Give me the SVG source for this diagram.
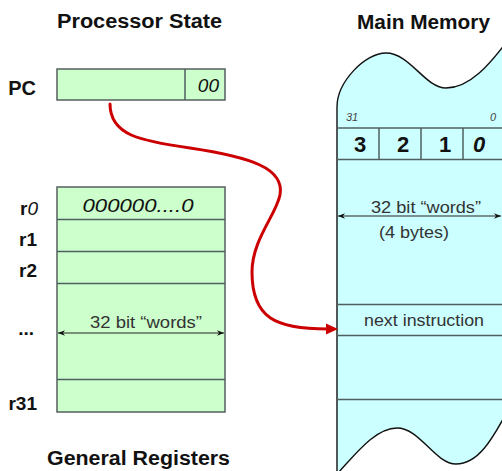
<svg xmlns="http://www.w3.org/2000/svg" width="502" height="471" viewBox="0 0 502 471">
  <defs>
    <style>
      .title { font-family: "Liberation Sans", Arial, sans-serif; font-weight: bold; font-size: 19.5px; fill: #111; }
      .reg-label { font-family: "Liberation Sans", Arial, sans-serif; font-weight: bold; font-size: 19px; fill: #111; text-anchor: end; }
      .note { font-family: "Liberation Sans", Arial, sans-serif; font-size: 16.5px; fill: #333; }
      .val { font-family: "Liberation Sans", Arial, sans-serif; font-style: italic; font-size: 19px; fill: #111; }
      .digit { font-family: "Liberation Sans", Arial, sans-serif; font-weight: bold; font-size: 22px; fill: #111; text-anchor: middle; }
      .bitpos { font-family: "Liberation Sans", Arial, sans-serif; font-style: italic; font-size: 11px; fill: #444; }
      .green { fill: #ccffcc; stroke: #555f5f; stroke-width: 1.5; }
      .sep { stroke: #4f5f5f; stroke-width: 1.5; fill: none; }
      .dim { stroke: #222; stroke-width: 1.2; fill: none; marker-start: url(#tipL); marker-end: url(#tipR); }
    </style>
    <marker id="tipR" viewBox="0 0 10 10" refX="10" refY="5" markerWidth="7" markerHeight="7" orient="auto" markerUnits="userSpaceOnUse">
      <path d="M0,1 L10,5 L0,9 L3,5 Z" fill="#111"/>
    </marker>
    <marker id="tipL" viewBox="0 0 10 10" refX="0" refY="5" markerWidth="7" markerHeight="7" orient="auto" markerUnits="userSpaceOnUse">
      <path d="M10,1 L0,5 L10,9 L7,5 Z" fill="#111"/>
    </marker>
  </defs>

  <rect width="502" height="471" fill="#ffffff"/>

  <!-- Processor side -->
  <g id="processor-title">
    <text class="title" x="139.5" y="28" text-anchor="middle" textLength="165" lengthAdjust="spacingAndGlyphs">Processor State</text>
  </g>

  <g id="pc-register">
    <text class="reg-label" x="36" y="95" style="font-size:20px">PC</text>
    <rect class="green" x="57" y="69" width="168" height="31"/>
    <line class="sep" x1="185" y1="69" x2="185" y2="100"/>
    <text class="val" x="219" y="92" text-anchor="end">00</text>
  </g>

  <g id="general-registers">
    <rect class="green" x="57" y="187" width="168" height="225"/>
    <line class="sep" x1="57" y1="219.5" x2="225" y2="219.5"/>
    <line class="sep" x1="57" y1="251.5" x2="225" y2="251.5"/>
    <line class="sep" x1="57" y1="283.5" x2="225" y2="283.5"/>
    <line class="sep" x1="57" y1="379.5" x2="225" y2="379.5"/>
    <text class="val" x="138" y="212" text-anchor="middle" textLength="111" lengthAdjust="spacingAndGlyphs">000000....0</text>
    <line class="dim" x1="58" y1="333" x2="224" y2="333"/>
    <text class="note" x="146" y="328" text-anchor="middle" textLength="112" lengthAdjust="spacingAndGlyphs">32 bit “words”</text>
    <text class="reg-label" x="38" y="215">r<tspan font-style="italic" font-weight="normal">0</tspan></text>
    <text class="reg-label" x="37" y="246">r1</text>
    <text class="reg-label" x="37" y="277">r2</text>
    <text class="reg-label" x="34" y="335">...</text>
    <text class="reg-label" x="37" y="410">r31</text>
  </g>

  <g id="registers-title">
    <text class="title" x="138.5" y="465" text-anchor="middle" textLength="183" lengthAdjust="spacingAndGlyphs">General Registers</text>
  </g>

  <!-- Memory side -->
  <g id="memory-title">
    <text class="title" x="423.5" y="29" text-anchor="middle" textLength="133" lengthAdjust="spacingAndGlyphs">Main Memory</text>
  </g>

  <g id="main-memory">
    <path d="M337,107 C337,82 365,53 386,53 C410,53 425,88 446,88 C470,88 490,64 508,40 L508,410 C492,440 478,464 456,464 C435,464 420,428 397,428 C375,428 355,455 337,474 Z" fill="#ccffff" stroke="none"/>
    <path d="M337,474 L337,107 C337,82 365,53 386,53 C410,53 425,88 446,88 C470,88 490,64 508,40" fill="none" stroke="#111" stroke-width="1.4"/>
    <path d="M337,474 C355,455 375,428 397,428 C420,428 435,464 456,464 C478,464 492,440 508,410" fill="none" stroke="#111" stroke-width="1.4"/>

    <text class="bitpos" x="346" y="121">31</text>
    <text class="bitpos" x="490" y="121">0</text>

    <line class="sep" x1="337" y1="128" x2="502" y2="128"/>
    <line class="sep" x1="337" y1="159.5" x2="502" y2="159.5"/>
    <line class="sep" x1="379" y1="128" x2="379" y2="159.5"/>
    <line class="sep" x1="421" y1="128" x2="421" y2="159.5"/>
    <line class="sep" x1="463" y1="128" x2="463" y2="159.5"/>
    <text class="digit" x="360" y="152">3</text>
    <text class="digit" x="403" y="152">2</text>
    <text class="digit" x="445" y="152">1</text>
    <text class="digit" x="479" y="152" font-style="italic" font-weight="normal">0</text>

    <line class="dim" x1="338" y1="216" x2="501" y2="216"/>
    <text class="note" x="426" y="213" text-anchor="middle" textLength="110" lengthAdjust="spacingAndGlyphs">32 bit “words”</text>
    <text class="note" x="414" y="238" text-anchor="middle" textLength="70" lengthAdjust="spacingAndGlyphs">(4 bytes)</text>

    <line class="sep" x1="337" y1="304.5" x2="502" y2="304.5"/>
    <line class="sep" x1="337" y1="335.5" x2="502" y2="335.5"/>
    <text class="note" x="424" y="326" text-anchor="middle" textLength="120" lengthAdjust="spacingAndGlyphs">next instruction</text>
    <line class="sep" x1="337" y1="399.5" x2="502" y2="399.5"/>
  </g>

  <!-- PC points at the next instruction -->
  <g id="connectors">
    <path d="M110,104 C110,135 140,141 190,148 C250,157 285,168 280,195 C276,215 252,240 252,272 C252,318 275,329 328,329" fill="none" stroke="#cc0000" stroke-width="3" stroke-linecap="round"/>
    <path d="M338,329 L326,323.5 L326,334.5 Z" fill="#cc0000"/>
  </g>
</svg>
